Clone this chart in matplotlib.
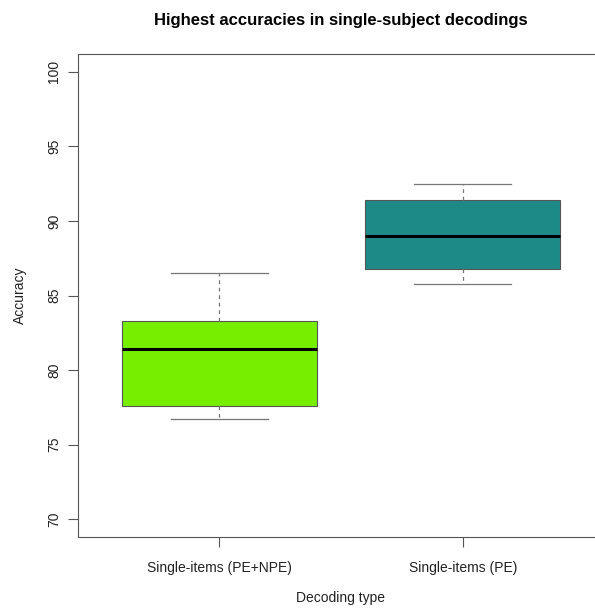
import matplotlib
matplotlib.use("Agg")
import matplotlib.pyplot as plt

plt.rcParams['font.family'] = ['Liberation Sans', 'DejaVu Sans']

categories = ["Single-items (PE+NPE)", "Single-items (PE)"]
whisker_low = [76.7, 85.8]
q1 = [77.6, 86.8]
median = [81.4, 89.0]
q3 = [83.3, 91.4]
whisker_high = [86.5, 92.5]
colors = ["#76EE00", "#1E8A88"]
yticks = [70, 75, 80, 85, 90, 95, 100]

W, H = 595, 608
fig = plt.figure(figsize=(W/100, H/100), dpi=100)
left, right, top, bottom = 78, 604, 54, 537
ax = fig.add_axes([left/W, 1 - bottom/H, (right-left)/W, (bottom-top)/H])

stats = []
for i in range(len(categories)):
    stats.append(dict(med=median[i], q1=q1[i], q3=q3[i],
                      whislo=whisker_low[i], whishi=whisker_high[i],
                      fliers=[], label=categories[i]))
pos = list(range(1, len(categories)+1))
bp = ax.bxp(stats, positions=pos, widths=0.8, patch_artist=True,
            showfliers=False,
            boxprops=dict(edgecolor="#555555", linewidth=0.8),
            medianprops=dict(color="black", linewidth=2.2, solid_capstyle='butt'),
            whiskerprops=dict(color="#777777", linestyle=(0, (3, 3)), linewidth=0.9),
            capprops=dict(color="#777777", linewidth=0.9),
            capwidths=0.4)
for patch, c in zip(bp['boxes'], colors):
    patch.set_facecolor(c)

ax.set_xlim(0.42, 2.58)
ax.set_ylim(68.8, 101.2)

for s in ['top', 'right', 'left', 'bottom']:
    ax.spines[s].set_color("#555555")
    ax.spines[s].set_linewidth(0.8)

ax.set_yticks(yticks)
ax.set_yticklabels([str(v) for v in yticks], rotation=90, va='center', fontsize=10, color="#222222")
ax.set_xticks(pos)
ax.set_xticklabels(categories, fontsize=10, color="#222222")
ax.tick_params(axis='y', length=7, width=0.8, color="#555555", pad=5)
ax.tick_params(axis='x', length=7, width=0.8, color="#555555", pad=10)

fig.text((left+right)/2/W, 1 - 598/H, "Decoding type", ha='center', va='center', fontsize=10, color="#222222")
fig.text(20/W, 1 - (top+bottom)/2/H, "Accuracy", ha='center', va='center', rotation=90, fontsize=10, color="#222222")
fig.text((left+right)/2/W, 1 - 21/H, "Highest accuracies in single-subject decodings", ha='center', va='center', fontsize=12, fontweight='bold', color="black")

fig.savefig("out.png", dpi=100)
